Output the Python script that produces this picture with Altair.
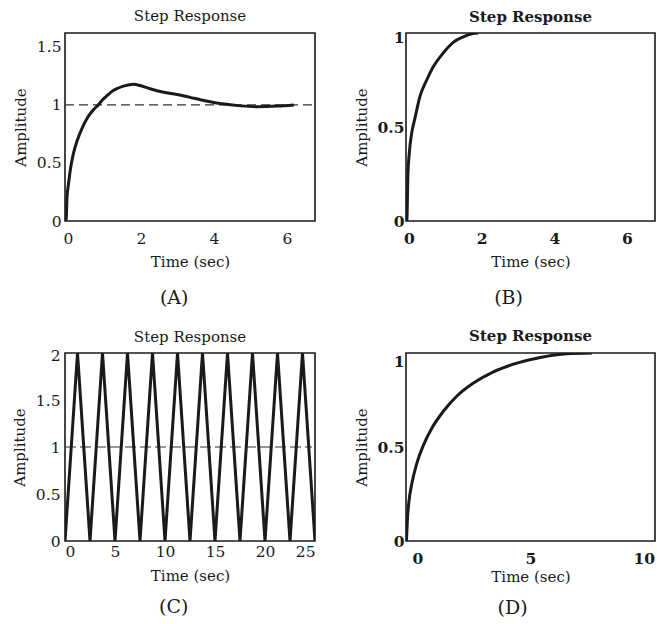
import altair as alt
import pandas as pd

FONT = "DejaVu Serif"
INK = "#1a1a1a"

# ---- Panel A: underdamped response ----
a_time = [-0.06, -0.045, -0.025, 0.02, 0.07, 0.15, 0.25, 0.375, 0.5, 0.6, 0.72, 0.83,
          0.95, 1.07, 1.2, 1.34, 1.5, 1.65, 1.8, 1.98, 2.25, 2.62, 2.99, 3.35, 3.63,
          4.18, 4.73, 5.18, 5.73, 6.19]
a_amp = [0.0, 0.03, 0.2, 0.33, 0.45, 0.58, 0.69, 0.79, 0.87, 0.92, 0.965, 1.0,
         1.045, 1.08, 1.115, 1.14, 1.16, 1.172, 1.178, 1.167, 1.14, 1.11, 1.09, 1.065, 1.045,
         1.012, 0.992, 0.985, 0.99, 1.0]

# ---- Panel B: fast first-order response ----
b_time = [-0.06, -0.05, -0.03, 0.01, 0.07, 0.17, 0.30, 0.49, 0.67, 0.95, 1.22, 1.50, 1.73, 1.91]
b_amp = [0.0, 0.03, 0.23, 0.36, 0.46, 0.55, 0.66, 0.75, 0.82, 0.895, 0.95, 0.98, 0.996, 1.0]

# ---- Panel C: undamped oscillation ----
c_time = [0, 1.25, 2.5, 3.75, 5, 6.25, 7.5, 8.75, 10, 11.25, 12.5, 13.75, 15, 16.25,
          17.5, 18.75, 20, 21.25, 22.5, 23.75, 25]
c_amp = [0, 2, 0, 2, 0, 2, 0, 2, 0, 2, 0, 2, 0, 2, 0, 2, 0, 2, 0, 2, 0]

# ---- Panel D: slow first-order response ----
d_time = [-0.48, -0.47, -0.44, -0.38, -0.25, -0.03, 0.27, 0.64, 1.15, 1.74, 2.48, 3.36,
          4.40, 5.43, 6.61, 7.72]
d_amp = [0.0, 0.03, 0.11, 0.20, 0.30, 0.41, 0.51, 0.60, 0.69, 0.77, 0.84, 0.90,
         0.946, 0.976, 0.996, 1.0]

# reference (final value) lines
a_ref = {"t0": [-0.08], "t1": [6.72], "level": [1.0]}
c_ref = {"t0": [0.0], "t1": [24.7], "level": [1.0]}

captions = ["(A)", "(B)", "(C)", "(D)"]
panel_title = "Step Response"
x_title = "Time (sec)"
y_title = "Amplitude"


def panel(t, amp, xdom, ydom, xticks, yticks, caption, weight="normal",
          ref=None, dash=(9, 5), xlabpad=6, ylabpad=4, xtitlepad=5,
          interp="monotone", width=250, cap_dx=0, cap_off=19, top_nudge=0,
          title_off=9):
    df = pd.DataFrame({"t": t, "amp": amp})
    x = alt.X("t:Q", scale=alt.Scale(domain=xdom, nice=False, zero=False),
              axis=alt.Axis(values=xticks, title=x_title, labelPadding=xlabpad,
                            labelFontWeight=weight, titlePadding=xtitlepad,
                            format="~r"))
    yaxis_kw = dict(values=yticks, title=y_title, labelPadding=ylabpad,
                    labelFontWeight=weight, titlePadding=8, format="~r")
    if top_nudge:
        yaxis_kw["labelOffset"] = {"condition": {"test": f"datum.value == {ydom[1]}",
                                                 "value": top_nudge}, "value": 0}
    y = alt.Y("amp:Q", scale=alt.Scale(domain=ydom, nice=False, zero=False),
              axis=alt.Axis(**yaxis_kw))
    line = alt.Chart(df).mark_line(color=INK, strokeWidth=3, clip=True,
                                   interpolate=interp).encode(x=x, y=y, order="t:O")
    layers = []
    if ref is not None:
        rdf = pd.DataFrame(ref)
        rule = alt.Chart(rdf).mark_rule(color="#333333", strokeWidth=1.2,
                                        strokeDash=list(dash)).encode(
            x="t0:Q", x2="t1:Q", y="level:Q")
        layers.append(rule)
    layers.append(line)
    ch = alt.layer(*layers).properties(
        width=width, height=188,
        title=alt.Title(panel_title, font=FONT, fontSize=15, fontWeight=weight,
                        color=INK, offset=title_off))
    return alt.vconcat(ch, title=alt.Title(caption, orient="bottom", anchor="middle",
                                           font=FONT, fontSize=19, fontWeight="normal",
                                           color=INK, offset=cap_off, dx=cap_dx))


pa = panel(a_time, a_amp, [-0.08, 6.77], [0, 1.62], [0, 2, 4, 6], [0, 0.5, 1, 1.5],
           captions[0], ref=a_ref, xlabpad=10, xtitlepad=8, cap_dx=10, title_off=9)
pb = panel(b_time, b_amp, [-0.08, 6.77], [0, 1.0], [0, 2, 4, 6], [0, 0.5, 1],
           captions[1], weight="bold", xlabpad=10, xtitlepad=8, ylabpad=2, width=249,
           cap_dx=4, top_nudge=4, title_off=5.25)
pc = panel(c_time, c_amp, [0, 25], [0, 2.0], [0, 5, 10, 15, 20, 25], [0, 0.5, 1, 1.5, 2],
           captions[2], ref=c_ref, dash=(11, 4), xlabpad=3, xtitlepad=9, ylabpad=5,
           interp="linear", cap_dx=10, cap_off=14, top_nudge=2, title_off=3.25)
pd_ = panel(d_time, d_amp, [-0.5, 10.5], [0, 1.0], [0, 5, 10], [0, 0.5, 1],
            captions[3], weight="bold", xlabpad=10, ylabpad=2, xtitlepad=3, width=249,
            cap_dx=8, cap_off=14, top_nudge=8, title_off=9)

top = alt.hconcat(pa, pb, spacing=37)
bottom = alt.hconcat(pc, pd_, spacing=37)

chart = alt.vconcat(top, bottom, spacing=19).properties(
    padding={"left": 3, "top": 0, "right": 0, "bottom": 0}
).configure_view(
    stroke="#1a1a1a", strokeWidth=1.6
).configure_axis(
    domain=False, ticks=False, grid=False,
    labelFont=FONT, labelFontSize=15.5, labelColor=INK,
    titleFont=FONT, titleFontSize=15, titleFontWeight="normal", titleColor=INK
)

chart.save("out.html", embed_options={"renderer": "svg", "actions": False})
